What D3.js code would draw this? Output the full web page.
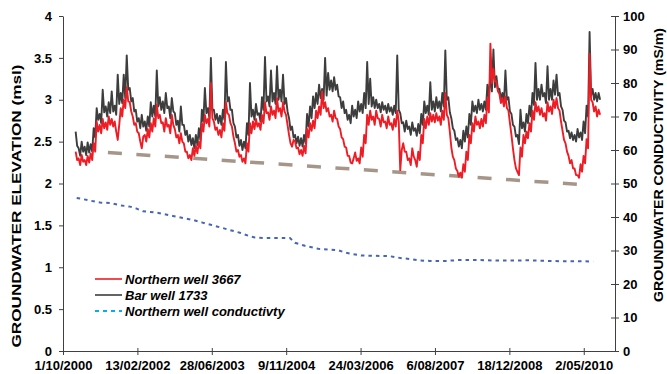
<!DOCTYPE html>
<html>
<head>
<meta charset="utf-8">
<script src="https://cdn.jsdelivr.net/npm/d3@7/dist/d3.min.js"></script>
<style>
  body { margin: 0; background: #fff; }
  text { font-family: "Liberation Sans", Arial, sans-serif; font-weight: bold; fill: #000; }
</style>
</head>
<body>
<div id="chart"></div>
<script>
// Axis tick labels
const xTickLabels = ['1/10/2000', '13/02/2002', '28/06/2003', '9/11/2004', '24/03/2006', '6/08/2007', '18/12/2008', '2/05/2010'];
const xAxisEnd = '28/11/2010';
const leftTicks = [0, 0.5, 1, 1.5, 2, 2.5, 3, 3.5, 4];
const rightTicks = [0, 10, 20, 30, 40, 50, 60, 70, 80, 90, 100];

// Well levels (msl), one reading every ~10 days from the first sample
const levelStart = '2000-12-25';
const levelStepDays = 10.1;

const barWell = [
  2.62, 2.45, 2.42, 2.33, 2.50, 2.38, 2.44, 2.34, 2.49, 2.37, 2.47, 2.38, 2.66, 2.55, 2.90, 2.76, 2.83, 2.72, 3.12, 2.85,
  2.92, 2.80, 2.97, 2.84, 3.10, 2.86, 2.93, 2.82, 3.30, 2.95, 3.08, 2.96, 3.30, 3.02, 3.53, 3.12, 3.14, 2.98, 3.02, 2.86,
  2.88, 2.74, 2.78, 2.66, 2.82, 2.68, 2.74, 2.63, 2.80, 2.68, 2.97, 2.80, 2.93, 2.80, 3.35, 2.92, 3.03, 2.88, 2.98, 2.84,
  3.08, 2.90, 2.92, 2.78, 3.02, 2.86, 2.84, 2.70, 2.75, 2.62, 2.92, 2.70, 2.70, 2.58, 2.63, 2.50, 2.58, 2.46, 2.54, 2.42,
  2.58, 2.46, 2.66, 2.52, 2.88, 2.74, 3.14, 2.84, 2.90, 2.78, 3.50, 2.88, 2.88, 2.76, 2.83, 2.72, 2.81, 2.70, 2.88, 2.76,
  3.45, 2.98, 3.03, 2.88, 2.88, 2.72, 2.68, 2.55, 2.58, 2.45, 2.52, 2.40, 2.50, 2.42, 2.72, 2.58, 3.20, 2.80, 2.88, 2.76,
  2.95, 2.82, 2.84, 2.74, 3.03, 2.88, 3.51, 2.98, 3.04, 2.92, 3.35, 2.98, 3.08, 2.95, 3.40, 3.00, 3.12, 2.98, 3.30, 2.95,
  3.02, 2.86, 2.78, 2.64, 2.68, 2.55, 2.58, 2.48, 2.56, 2.45, 2.54, 2.44, 2.58, 2.48, 2.83, 2.68, 2.92, 2.78, 3.04, 2.90,
  3.08, 2.95, 3.18, 3.02, 3.13, 3.00, 3.50, 3.05, 3.32, 3.12, 3.23, 3.10, 3.27, 3.12, 3.18, 3.04, 3.03, 2.90, 2.98, 2.84,
  2.88, 2.76, 2.82, 2.72, 2.93, 2.80, 2.88, 2.78, 2.98, 2.86, 2.95, 2.84, 3.08, 2.90, 3.45, 2.95, 3.25, 2.92, 3.03, 2.90,
  3.00, 2.90, 2.95, 2.85, 2.97, 2.88, 2.93, 2.84, 2.95, 2.86, 2.91, 2.82, 2.93, 2.84, 3.53, 2.88, 2.84, 2.72, 2.73, 2.62,
  2.75, 2.65, 2.68, 2.58, 2.73, 2.63, 2.66, 2.57, 2.71, 2.60, 2.83, 2.70, 2.98, 2.84, 2.93, 2.82, 3.21, 2.88, 2.98, 2.86,
  3.03, 2.90, 2.98, 2.86, 3.08, 2.92, 3.59, 3.00, 3.03, 2.85, 2.78, 2.66, 2.63, 2.52, 2.54, 2.44, 2.52, 2.42, 2.63, 2.50,
  2.68, 2.55, 2.83, 2.70, 2.98, 2.86, 2.93, 2.84, 3.00, 2.88, 2.95, 2.86, 2.98, 2.88, 3.18, 3.02, 3.32, 3.10, 3.60, 3.15,
  3.28, 3.12, 3.13, 3.00, 3.08, 2.96, 3.35, 3.00, 3.03, 2.86, 2.83, 2.70, 2.68, 2.56, 2.58, 2.47, 2.88, 2.66, 2.73, 2.62,
  2.83, 2.72, 2.93, 2.80, 3.08, 2.94, 3.44, 3.00, 3.13, 3.00, 3.18, 3.04, 3.08, 2.96, 3.40, 3.00, 3.13, 3.00, 3.23, 3.06,
  3.30, 3.05, 3.08, 2.92, 2.88, 2.75, 2.73, 2.62, 2.63, 2.54, 2.61, 2.52, 2.58, 2.50, 2.65, 2.55, 2.61, 2.52, 2.74, 2.60,
  2.93, 2.80, 3.81, 3.05, 3.13, 3.00, 3.08, 2.98, 3.08, 3.00
];

const northernWell = [
  2.38, 2.28, 2.30, 2.22, 2.34, 2.26, 2.28, 2.22, 2.33, 2.25, 2.36, 2.28, 2.48, 2.38, 2.74, 2.62, 2.70, 2.60, 2.77, 2.66,
  2.73, 2.64, 2.80, 2.70, 2.77, 2.68, 2.74, 2.62, 2.52, 2.70, 2.90, 2.80, 3.00, 2.90, 3.15, 2.98, 2.97, 2.86, 2.80, 2.70,
  2.72, 2.62, 2.60, 2.50, 2.42, 2.56, 2.58, 2.50, 2.65, 2.55, 2.72, 2.62, 2.78, 2.68, 2.94, 2.78, 2.82, 2.72, 2.73, 2.62,
  2.78, 2.68, 2.70, 2.60, 2.82, 2.70, 2.65, 2.55, 2.58, 2.48, 2.60, 2.50, 2.48, 2.38, 2.38, 2.30, 2.34, 2.28, 2.42, 2.33,
  2.45, 2.36, 2.50, 2.42, 2.72, 2.62, 2.82, 2.72, 2.77, 2.68, 3.20, 2.78, 2.74, 2.64, 2.67, 2.58, 2.64, 2.55, 2.72, 2.63,
  2.97, 2.84, 2.82, 2.72, 2.68, 2.56, 2.48, 2.38, 2.40, 2.32, 2.34, 2.26, 2.30, 2.24, 2.48, 2.38, 2.72, 2.60, 2.74, 2.65,
  2.77, 2.68, 2.72, 2.64, 2.82, 2.72, 2.97, 2.84, 2.85, 2.76, 2.92, 2.82, 2.87, 2.78, 3.02, 2.86, 2.90, 2.80, 2.97, 2.86,
  2.82, 2.70, 2.58, 2.48, 2.44, 2.52, 2.50, 2.42, 2.43, 2.35, 2.40, 2.33, 2.45, 2.36, 2.65, 2.55, 2.72, 2.63, 2.75, 2.66,
  2.87, 2.78, 2.92, 2.82, 3.10, 2.90, 2.97, 2.86, 2.90, 2.80, 2.82, 2.74, 2.87, 2.78, 2.77, 2.68, 2.65, 2.55, 2.53, 2.44,
  2.43, 2.33, 2.33, 2.25, 2.24, 2.30, 2.37, 2.27, 2.30, 2.24, 2.43, 2.32, 2.58, 2.48, 2.82, 2.70, 2.87, 2.76, 2.80, 2.70,
  2.87, 2.78, 2.77, 2.68, 2.82, 2.73, 2.74, 2.66, 2.80, 2.70, 2.72, 2.64, 2.77, 2.68, 2.87, 2.74, 2.16, 2.40, 2.48, 2.38,
  2.38, 2.28, 2.30, 2.22, 2.42, 2.32, 2.28, 2.20, 2.38, 2.28, 2.58, 2.48, 2.77, 2.66, 2.80, 2.70, 2.84, 2.74, 2.82, 2.73,
  2.84, 2.75, 2.80, 2.70, 2.87, 2.76, 3.08, 2.82, 2.78, 2.62, 2.43, 2.32, 2.28, 2.18, 2.15, 2.08, 2.13, 2.07, 2.23, 2.14,
  2.38, 2.28, 2.58, 2.48, 2.72, 2.62, 2.80, 2.70, 2.74, 2.66, 2.77, 2.68, 2.82, 2.72, 3.02, 2.85, 3.67, 3.20, 3.37, 3.22,
  3.22, 3.10, 3.07, 2.96, 3.02, 2.92, 3.04, 2.90, 2.87, 2.72, 2.58, 2.42, 2.28, 2.18, 2.14, 2.10, 2.43, 2.32, 2.58, 2.48,
  2.62, 2.54, 2.72, 2.62, 2.87, 2.76, 2.97, 2.86, 2.92, 2.82, 2.90, 2.80, 2.84, 2.75, 2.97, 2.86, 2.92, 2.83, 3.00, 2.90,
  3.02, 2.90, 2.87, 2.74, 2.63, 2.52, 2.48, 2.38, 2.33, 2.24, 2.28, 2.18, 2.18, 2.10, 2.10, 2.07, 2.23, 2.14, 2.33, 2.24,
  2.53, 2.42, 3.55, 3.00, 2.97, 2.86, 2.92, 2.80, 2.88, 2.82
];

// Conductivity (mS/m), right axis
const condDates = [
  '2001-01-01', '2001-06-07', '2001-08-13', '2001-10-19', '2001-12-25', '2002-02-08', '2002-03-23',
  '2002-06-23', '2002-10-10', '2002-12-16', '2003-02-22', '2003-04-21', '2003-06-27', '2003-09-02',
  '2003-10-28', '2004-01-03', '2004-02-28', '2004-04-13', '2004-06-08', '2004-12-04', '2005-01-07',
  '2005-03-15', '2005-06-13', '2005-10-25', '2005-12-09', '2006-02-03', '2006-03-31', '2006-10-07',
  '2006-12-25', '2007-03-02', '2007-04-27', '2007-07-03', '2007-10-23', '2008-02-01', '2008-05-12',
  '2008-09-23', '2009-02-04', '2009-04-12', '2009-08-24', '2009-12-14', '2010-04-27', '2010-07-04'
];
const condValues = [
  45.7, 44.3, 44.2, 43.5, 43.1, 42.5, 41.7,
  41.3, 40.3, 39.7, 39.1, 38.4, 37.6, 36.8,
  36.1, 35.3, 34.4, 33.9, 33.7, 33.7, 32.3,
  31.4, 30.5, 30.1, 29.4, 28.9, 28.5, 28.3,
  27.7, 27.4, 27.0, 26.9, 26.9, 27.2, 27.2,
  27.0, 27.0, 27.1, 26.9, 26.8, 26.8, 26.7
];

// Trend line (left axis)
const trendDates = ['2001-07-30', '2010-03-24'];
const trendValues = [2.37, 1.99];

const legendLabels = ['Northern well 3667', 'Bar well 1733', 'Northern well conductivty'];

// ---- layout
const W = 667, H = 374;
const plot = { left: 63, right: 615, top: 16, bottom: 351 };

const svg = d3.select('#chart')
  .append('svg')
  .attr('width', W)
  .attr('height', H);

const parseDate = d3.utcParse('%Y-%m-%d');
const parseTick = d3.utcParse('%d/%m/%Y');

const xTicks = xTickLabels.map(parseTick);
const xScale = d3.scaleUtc()
  .domain([xTicks[0], parseTick(xAxisEnd)])
  .range([plot.left, plot.right]);

const yLeft = d3.scaleLinear().domain([0, 4]).range([plot.bottom, plot.top]);
const yRight = d3.scaleLinear().domain([0, 100]).range([plot.bottom, plot.top]);

const t0 = parseDate(levelStart);
const levelDate = i => new Date(t0.getTime() + i * levelStepDays * 864e5);

const barData = barWell.map((v, i) => ({ date: levelDate(i), value: v }));
const northData = northernWell.map((v, i) => ({ date: levelDate(i), value: v }));
const condData = condDates.map((d, i) => ({ date: parseDate(d), value: condValues[i] }));
const trendData = trendDates.map((d, i) => ({ date: parseDate(d), value: trendValues[i] }));

const lineLeft = d3.line().x(d => xScale(d.date)).y(d => yLeft(d.value));
const lineRight = d3.line().x(d => xScale(d.date)).y(d => yRight(d.value));

// ---- series
svg.append('path')
  .datum(trendData)
  .attr('d', lineLeft)
  .attr('fill', 'none')
  .attr('stroke', '#a6968a')
  .attr('stroke-width', 3.5)
  .attr('stroke-dasharray', '14,14.5');

svg.append('path')
  .datum(condData)
  .attr('d', lineRight)
  .attr('fill', 'none')
  .attr('stroke', '#4565b5')
  .attr('stroke-width', 2)
  .attr('stroke-dasharray', '3.5,4');

svg.append('path')
  .datum(barData)
  .attr('d', lineLeft)
  .attr('fill', 'none')
  .attr('stroke', '#3d3d3d')
  .attr('stroke-width', 1.9)
  .attr('stroke-linejoin', 'round');

svg.append('path')
  .datum(northData)
  .attr('d', lineLeft)
  .attr('fill', 'none')
  .attr('stroke', '#ee1d25')
  .attr('stroke-width', 1.9)
  .attr('stroke-linejoin', 'round');

// ---- axes
const axisColor = '#404040';

svg.append('g')
  .attr('transform', `translate(${plot.left},0)`)
  .call(d3.axisLeft(yLeft).tickValues(leftTicks).tickFormat(d => String(d)).tickSize(4).tickSizeOuter(0).tickPadding(7))
  .call(g => g.select('.domain').attr('stroke', axisColor))
  .call(g => g.selectAll('.tick line').attr('stroke', axisColor))
  .selectAll('text')
  .style('font-size', '13px');

svg.append('g')
  .attr('transform', `translate(${plot.right},0)`)
  .call(d3.axisRight(yRight).tickValues(rightTicks).tickSize(4).tickSizeOuter(0).tickPadding(4))
  .call(g => g.select('.domain').attr('stroke', axisColor))
  .call(g => g.selectAll('.tick line').attr('stroke', axisColor).attr('x1', -4))
  .selectAll('text')
  .style('font-size', '13px');

svg.append('g')
  .attr('transform', `translate(0,${plot.bottom})`)
  .call(d3.axisBottom(xScale).tickValues(xTicks).tickFormat((d, i) => xTickLabels[i]).tickSize(4).tickSizeOuter(0).tickPadding(6))
  .call(g => g.select('.domain').attr('stroke', axisColor))
  .call(g => g.selectAll('.tick line').attr('stroke', axisColor).attr('y1', -3))
  .selectAll('text')
  .style('font-size', '13px');

// ---- axis titles
svg.append('text')
  .attr('transform', 'translate(21,206) rotate(-90)')
  .attr('text-anchor', 'middle')
  .attr('textLength', 283)
  .attr('lengthAdjust', 'spacingAndGlyphs')
  .style('font-size', '13.5px')
  .text('GROUNDWATER ELEVATION (msl)');

svg.append('text')
  .attr('transform', 'translate(663,165) rotate(-90)')
  .attr('text-anchor', 'middle')
  .attr('textLength', 274)
  .attr('lengthAdjust', 'spacingAndGlyphs')
  .style('font-size', '13.5px')
  .text('GROUNDWATER CONDUCTIVITY (mS/m)');

// ---- legend
const legendStyles = [
  { color: '#ee1d25', dash: null, width: 1.6 },
  { color: '#3d3d3d', dash: null, width: 1.6 },
  { color: '#00b0f0', dash: '4,4', width: 2 }
];

const legend = svg.append('g').attr('transform', 'translate(95,279)');
legendLabels.forEach((label, i) => {
  const row = legend.append('g').attr('transform', `translate(0,${i * 16})`);
  row.append('line')
    .attr('x1', 0).attr('x2', 27)
    .attr('stroke', legendStyles[i].color)
    .attr('stroke-width', legendStyles[i].width)
    .attr('stroke-dasharray', legendStyles[i].dash);
  row.append('text')
    .attr('x', 30)
    .attr('y', 4.5)
    .style('font-size', '13px')
    .style('font-style', 'italic')
    .text(label);
});
</script>
</body>
</html>
